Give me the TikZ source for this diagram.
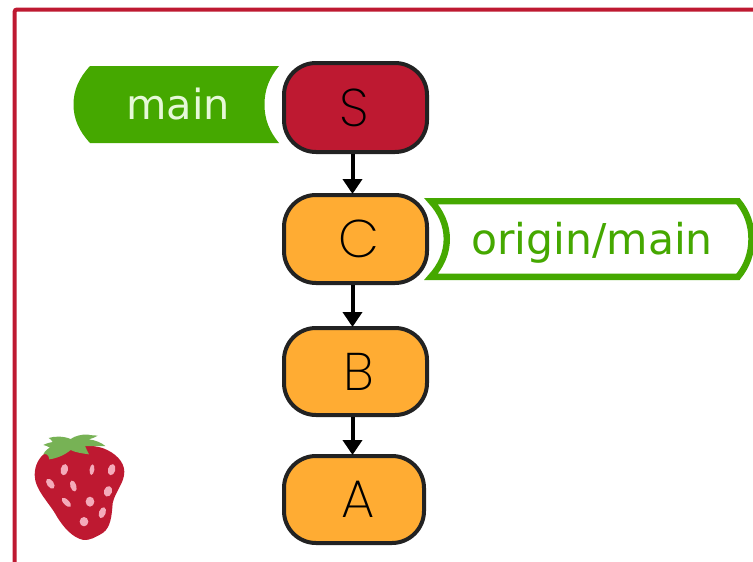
\documentclass[tikz,border=0pt]{standalone}
\usepackage{fontspec}
\setmainfont{DejaVu Sans}
\newfontfamily\nodefont{Poppins ExtraLight}
\usetikzlibrary{arrows.meta}
\definecolor{frameRed}{HTML}{BE1931}
\definecolor{tagGreen}{HTML}{45A800}
\definecolor{commitOrange}{HTML}{FFAC33}
\definecolor{edgeDark}{HTML}{222222}
\definecolor{leafGreen}{HTML}{77B255}
\definecolor{seedPink}{HTML}{F4ABBA}
\definecolor{mainText}{HTML}{E6F8D8}
\tikzset{
  commit/.style={draw=edgeDark,line width=4pt,rounded corners=32pt,inner sep=0pt,
    font=\nodefont\fontsize{53}{56}\selectfont,text=black},
  link/.style={line width=4pt,-{Triangle[width=19pt,length=15pt]},black,shorten >=-1pt},
  taglabel/.style={inner sep=0pt},
  seed/.style={fill=seedPink,draw=none},
}
\begin{document}
\begin{tikzpicture}[x=1pt,y=-1pt]
\useasboundingbox (0,0) rectangle (753,562);
\clip (0,0) rectangle (753,562);
\fill[white] (0,0) rectangle (753,562);
% frame
\draw[frameRed,line width=4pt,rounded corners=2pt] (14.7,570) -- (14.7,9.6) -- (760,9.6);
% main tag
\fill[tagGreen] (90,66) .. controls (79,78) and (73.5,90) .. (73.5,104.5)
  .. controls (73.5,119) and (79,131) .. (90,143) -- (279,143)
  .. controls (269,131) and (264.5,119) .. (264.5,104.5)
  .. controls (264.5,90) and (269,78) .. (279,66) -- cycle;
\node[taglabel,text=mainText,anchor=base,font=\fontsize{41.5}{46}\selectfont] (mainlabel) at (178,119) {main};
% origin/main tag
\draw[tagGreen,fill=white,line width=6.4pt,miter limit=10] (431,201.2)
  .. controls (441,212) and (446.8,225) .. (446.8,239)
  .. controls (446.8,253) and (441,266) .. (431,276.8) -- (738,276.8)
  .. controls (747,266) and (751.5,253) .. (751.5,239)
  .. controls (751.5,225) and (747,212) .. (738,201.2) -- cycle;
\node[taglabel,text=tagGreen,anchor=base,font=\fontsize{42.5}{46}\selectfont] (originlabel) at (592,254) {origin/main};
% commits
\node[commit,fill=frameRed,minimum width=143pt,minimum height=89pt] (S) at (355.5,107.5) {\hspace*{-3pt}S};
\node[commit,fill=commitOrange,minimum width=143pt,minimum height=88pt] (C) at (355.5,239) {\hspace*{6pt}C};
\node[commit,fill=commitOrange,minimum width=143pt,minimum height=87pt] (B) at (355.5,371.5) {\hspace*{6pt}B};
\node[commit,fill=commitOrange,minimum width=140pt,minimum height=87pt] (A) at (354,499.5) {\hspace*{8pt}A};
% connectors
\draw[link] ([xshift=-3pt]S.south) -- ([xshift=-3pt]C.north);
\draw[link] ([xshift=-3pt]C.south) -- ([xshift=-3pt]B.north);
\draw[link] ([xshift=-3pt]B.south) -- ([xshift=-1.5pt]A.north);
% strawberry
\begin{scope}[shift={(0,420)},x=0.3333pt,y=-0.3333pt]
\fill[frameRed] (104,165) .. controls (104,135) and (118,112) .. (135,100)
  .. controls (180,75) and (270,70) .. (310,85)
  .. controls (345,98) and (373,125) .. (373,155)
  .. controls (373,190) and (345,215) .. (338,250)
  .. controls (335,290) and (332,320) .. (310,338)
  .. controls (290,350) and (270,362) .. (250,360)
  .. controls (215,352) and (190,320) .. (172,292)
  .. controls (150,250) and (104,210) .. (104,165) -- cycle;
\fill[leafGreen] (148,118) .. controls (146,105) and (140,100) .. (130,103)
  .. controls (135,92) and (145,85) .. (150,83)
  .. controls (142,78) and (135,76) .. (130,75)
  .. controls (140,70) and (150,67) .. (158,66)
  .. controls (155,60) and (150,56) .. (146,54)
  .. controls (165,48) and (190,48) .. (212,57)
  .. controls (225,48) and (245,42) .. (265,44)
  .. controls (270,46) and (285,46) .. (293,47)
  .. controls (285,52) and (275,56) .. (266,58)
  .. controls (285,60) and (305,68) .. (316,78)
  .. controls (300,78) and (275,78) .. (255,78)
  .. controls (258,85) and (263,95) .. (267,103)
  .. controls (245,100) and (225,97) .. (212,90)
  .. controls (195,105) and (170,115) .. (148,118) -- cycle;
\fill[seed,rotate around={-12:(193,149)}] (193,149) ellipse [x radius=11,y radius=17];
\fill[seed,rotate around={-8:(276,149)}] (276,149) ellipse [x radius=7,y radius=16];
\fill[seed,rotate around={-15:(335,149)}] (335,149) ellipse [x radius=11,y radius=17];
\fill[seed,rotate around={35:(151,191)}] (151,191) ellipse [x radius=10,y radius=17];
\fill[seed,rotate around={18:(220,198)}] (220,198) ellipse [x radius=9,y radius=17];
\fill[seed,rotate around={-18:(324,214)}] (324,214) ellipse [x radius=12,y radius=16];
\fill[seed,rotate around={45:(199,247)}] (199,247) ellipse [x radius=8,y radius=18];
\fill[seed] (270,245) ellipse [x radius=13,y radius=15];
\fill[seed,rotate around={-20:(307,278)}] (307,278) ellipse [x radius=10,y radius=17];
\fill[seed] (252,305) ellipse [x radius=13,y radius=14];
\end{scope}
\end{tikzpicture}
\end{document}
